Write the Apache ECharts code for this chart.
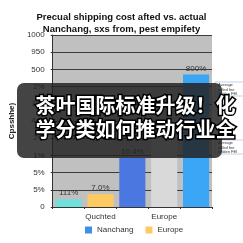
<!DOCTYPE html>
<html>
<head>
<meta charset="utf-8">
<script src="https://cdn.jsdelivr.net/npm/echarts@6/dist/echarts.min.js"></script>
<style>
  html, body { margin: 0; padding: 0; background: #fff; }
  #chart { width: 243px; height: 243px; }
</style>
</head>
<body>
<div id="chart"></div>
<script>
// data
const categories = ['', 'Quchted', '', 'Europe', '']
const nanchangValues = [45, '-', 285, '-', 770]
const europeValues = ['-', 75, '-', 500, '-']
const barColors = ['#6fe0dc', '#fdca62', '#4a78e0', '#d9d9d9', '#3aa6f5']
const barLabels = ['111%', '7.0%', '10.4%', '', '800%']
const yTickLabels = ['0', '5%', '5%', '1%', '2%', '440', '300', '2%', '500', '950', '1000']

const chart = echarts.init(document.getElementById('chart'))

const makeData = (vals) => vals.map((v, i) => ({
  value: v,
  itemStyle: { color: barColors[i] },
  label: { formatter: barLabels[i] }
}))

const labelStyle = {
  show: true,
  position: 'top',
  distance: 2,
  fontSize: 8,
  color: '#333',
  fontFamily: 'Liberation Sans'
}

const option = {
  animation: false,
  title: {
    text: 'Precual shipping cost afted vs. actual\nNanchang, sxs from, pest empifety',
    left: 'center',
    top: 6,
    textStyle: {
      fontSize: 9.5,
      fontWeight: 'bold',
      fontFamily: 'Liberation Sans',
      color: '#111',
      lineHeight: 12
    }
  },
  legend: {
    bottom: 4,
    left: 80,
    itemWidth: 7,
    itemHeight: 7,
    itemGap: 12,
    icon: 'rect',
    textStyle: { fontSize: 8, color: '#333', fontFamily: 'Liberation Sans' },
    data: ['Nanchang', 'Europe']
  },
  grid: {
    left: 30, right: 31, top: 35, bottom: 36,
    show: true,
    backgroundColor: '#c0c0c0',
    borderWidth: 0
  },
  xAxis: {
    type: 'category',
    data: categories,
    axisLine: { lineStyle: { color: '#333' } },
    axisTick: { show: true, length: 2, lineStyle: { color: '#333' } },
    axisLabel: { fontSize: 8, color: '#333', margin: 6, fontFamily: 'Liberation Sans', interval: 0 }
  },
  yAxis: {
    type: 'value',
    min: 0, max: 1000, interval: 100,
    name: 'Cpsshhe)',
    nameLocation: 'middle',
    nameGap: 27,
    nameTextStyle: { fontSize: 8, fontWeight: 'bold', color: '#222', fontFamily: 'Liberation Sans' },
    axisLine: { show: true, lineStyle: { color: '#333' } },
    axisTick: { show: true, length: 2, lineStyle: { color: '#333' } },
    axisLabel: {
      fontSize: 8, color: '#333', margin: 8, fontFamily: 'Liberation Sans',
      formatter: (v) => yTickLabels[Math.round(v / 100)]
    },
    splitLine: { lineStyle: { color: '#3c3c3c', width: 1 } }
  },
  series: [
    {
      name: 'Nanchang',
      type: 'bar',
      stack: 'a',
      barCategoryGap: '18%',
      color: '#3f8fe6',
      label: labelStyle,
      data: makeData(nanchangValues)
    },
    {
      name: 'Europe',
      type: 'bar',
      stack: 'a',
      barCategoryGap: '18%',
      color: '#fdca62',
      label: labelStyle,
      data: makeData(europeValues)
    }
  ],
  graphic: [
    {
      type: 'rect',
      shape: { x: 17, y: 83, width: 205, height: 75, r: 7 },
      style: { fill: 'rgba(35,35,35,0.85)' },
      z: 100
    },
    {
      type: 'group', z: 99,
      children: [
        { type: 'rect', shape: { x: 215, y: 82, width: 30, height: 14 }, style: { fill: '#fff', stroke: '#9bbbd8', lineWidth: 0.6 } },
        { type: 'text', left: 218, top: 83, style: { text: 'Average\nrolled fee\nholden FEI', fontSize: 4, lineHeight: 4.5, fill: '#333', fontFamily: 'Liberation Sans' } },
        { type: 'rect', shape: { x: 215, y: 140, width: 30, height: 14 }, style: { fill: '#fff', stroke: '#9bbbd8', lineWidth: 0.6 } },
        { type: 'text', left: 218, top: 141, style: { text: 'Average\nrolled fee\nholden FEI', fontSize: 4, lineHeight: 4.5, fill: '#333', fontFamily: 'Liberation Sans' } }
      ]
    },
    {
      type: 'text',
      left: 34, top: 93,
      z: 101,
      style: {
        text: '茶叶国际标准升级！化\n学分类如何推动行业全',
        fontSize: 20,
        lineHeight: 24,
        fontWeight: 'bold',
        fontFamily: 'Noto Sans CJK SC',
        fill: '#fff',
        stroke: '#000',
        lineWidth: 3
      }
    }
  ]
}

chart.setOption(option)
</script>
</body>
</html>
